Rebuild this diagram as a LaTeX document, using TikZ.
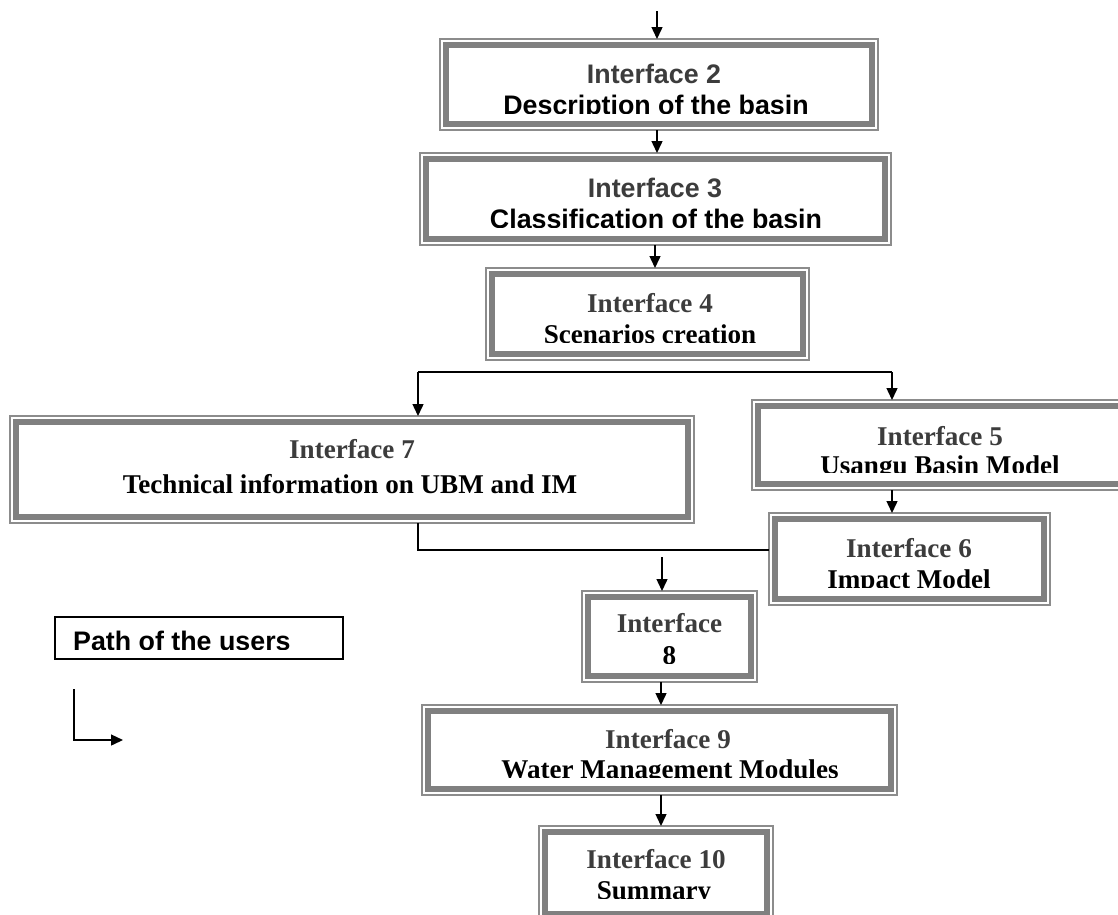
\documentclass[tikz,border=0pt]{standalone}
\usepackage{fontspec}
\newfontfamily\arialb{Liberation Sans}
\newfontfamily\timesb{Liberation Serif}
\usetikzlibrary{arrows.meta}
\definecolor{bandc}{HTML}{808080}
\definecolor{rimc}{HTML}{8C8C8C}
\definecolor{ttlc}{HTML}{3C3C3C}
\tikzset{
 frame/.style={draw=rimc, line width=1.2pt, inner sep=0pt, outer sep=0pt, rectangle},
 bandline/.style={draw=bandc, line width=6pt},
 conn/.style={line width=1.4pt, black},
 arr/.style={conn, -{Triangle[length=12pt,width=11pt]}},
 sf/.style={font=\arialb\bfseries\fontsize{26.8}{30}\selectfont, inner sep=0pt, anchor=base},
 rm/.style={font=\timesb\bfseries\fontsize{27.1}{30}\selectfont, inner sep=0pt, anchor=base},
 ttl/.style={text=ttlc},
}
\newcommand\ibox[5]{%
 \node[frame, minimum width=#4pt, minimum height=#5pt] (#1) at (#2,#3) {};
 \draw[bandline] ([shift={(6,6)}]#1.north west) rectangle ([shift={(-6,-6)}]#1.south east);
}
\begin{document}
\begin{tikzpicture}[x=1pt,y=-1pt]
\useasboundingbox (0,0) rectangle (1118,914);
\clip (0,0) rectangle (1118,914);
% boxes: name, center x, center y, width, height
\ibox{b2}{659}{84.5}{438}{91}
\ibox{b3}{655.5}{199}{471}{92}
\ibox{b4}{647.5}{314}{323}{92}
\ibox{b7}{352}{469.5}{684}{107}
\ibox{b5}{941}{445}{378}{90}
\ibox{b6}{909.5}{559}{281}{92}
\ibox{b8}{669.5}{636.5}{175}{91}
\ibox{b9}{659.5}{750}{475}{90}
\ibox{b10}{656}{873}{234}{94}
\node[draw=black, line width=1.3pt, minimum width=288pt, minimum height=42pt, inner sep=0pt] (leg) at (199,638) {};
% texts
\node[sf,ttl] (t2a) at (654,83) {Interface 2};
\begin{scope}\clip (440,39) rectangle (878,113.5);
\node[sf] (t2b) at (656,114.3) {Description of the basin};\end{scope}
\node[sf,ttl] (t3a) at (655,197) {Interface 3};
\begin{scope}\clip (420,153) rectangle (891,227.5);
\node[sf] (t3b) at (656,228.3) {Classification of the basin};\end{scope}
\node[rm,ttl] (t4a) at (650,312) {Interface 4};
\begin{scope}\clip (486,268) rectangle (809,342);
\node[rm] (t4b) at (650,343) {Scenarios creation};\end{scope}
\node[rm,ttl] (t7a) at (352,458) {Interface 7};
\node[rm] (t7b) at (350,493) {Technical information on UBM and IM};
\node[rm,ttl] (t5a) at (940,445) {Interface 5};
\begin{scope}\clip (752,400) rectangle (1118,472);
\node[rm] (t5b) at (940,474) {Usangu Basin Model};\end{scope}
\node[rm,ttl] (t6a) at (909,557) {Interface 6};
\begin{scope}\clip (769,513) rectangle (1050,587);
\node[rm] (t6b) at (909,588) {Impact Model};\end{scope}
\node[rm,ttl] (t8a) at (669.5,632) {Interface};
\begin{scope}\clip (582,591) rectangle (757,663);
\node[rm] (t8b) at (669.5,664) {8};\end{scope}
\node[rm,ttl] (t9a) at (668,748) {Interface 9};
\begin{scope}\clip (422,705) rectangle (897,777);
\node[rm] (t9b) at (670,778) {Water Management Modules};\end{scope}
\node[rm,ttl] (t10a) at (656,868) {Interface 10};
\begin{scope}\clip (539,826) rectangle (773,898);
\node[rm] (t10b) at (654,899) {Summary};\end{scope}
\begin{scope}\clip (55,617) rectangle (343,649);
\node[sf, anchor=base west] (tleg) at (73,650) {Path of the users};\end{scope}
% connectors
\coordinate (top) at (657,11);
\draw[arr] (top) -- (top |- b2.north);
\draw[arr] (b2.south -| top) -- (b3.north -| top);
\coordinate (m3) at (655,0);
\draw[arr] (b3.south -| m3) -- (b4.north -| m3);
\coordinate (jl) at (418,372);
\coordinate (jr) at (892,372);
\draw[conn] (jl) -- (jr);
\draw[arr] (jl) -- (jl |- b7.north);
\draw[arr] (jr) -- (jr |- b5.north);
\draw[arr] (b5.south -| jr) -- (b6.north -| jr);
\coordinate (k) at (418,550);
\draw[conn] (b7.south -| k) |- (b6.west |- k);
\coordinate (a8) at (662,557);
\draw[arr] (a8) -- (a8 |- b8.north);
\coordinate (m8) at (661,0);
\draw[arr] (b8.south -| m8) -- (b9.north -| m8);
\draw[arr] (b9.south -| m8) -- (b10.north -| m8);
\coordinate (lga) at (74,689);
\coordinate (lgb) at (123,740);
\draw[arr] (lga) |- (lgb);
\end{tikzpicture}
\end{document}
